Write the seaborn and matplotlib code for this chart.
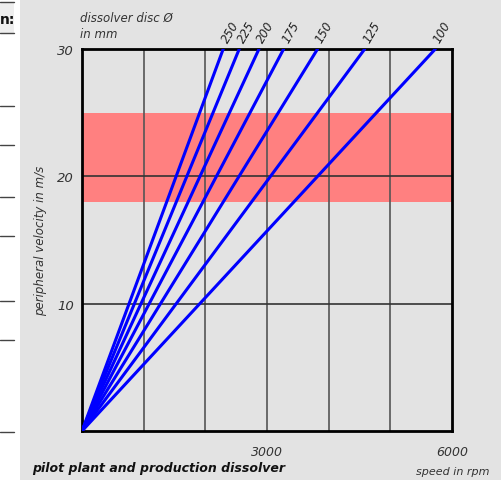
import pandas as pd
import matplotlib.pyplot as plt
import seaborn as sns
from matplotlib.patches import Rectangle
from matplotlib.lines import Line2D

# disc diameters (mm) and the speed (rpm) where each line leaves the chart at 30 m/s
discs = [250, 225, 200, 175, 150, 125, 100]
end_speed = [2290, 2550, 2870, 3270, 3820, 4585, 5730]
end_velocity = [30, 30, 30, 30, 30, 30, 30]

band = (18, 25)
xticks = [1000, 2000, 3000, 4000, 5000, 6000]
xticklabels = ['', '', '3000', '', '', '6000']
yticks = [10, 20, 30]

rows = []
for d, n, v in zip(discs, end_speed, end_velocity):
    rows.append({'disc': d, 'speed': 0, 'v': 0})
    rows.append({'disc': d, 'speed': n, 'v': v})
df = pd.DataFrame(rows)

sns.set_style('white')
plt.rcParams['font.family'] = ['DejaVu Sans']
bg = '#e3e3e3'

fig = plt.figure(figsize=(5.02, 4.81), dpi=100, facecolor=bg)
W, H = 502, 481
ax = fig.add_axes([82 / W, (H - 432) / H, 370 / W, 382 / H])
ax.set_facecolor(bg)

ax.axhspan(band[0], band[1], color='#ff8080', lw=0, zorder=0)
for x in xticks[:-1]:
    ax.axvline(x, color='#555555', lw=1.2, zorder=1)
for y in yticks[:-1]:
    ax.axhline(y, color='#333333', lw=1.2, zorder=1)

sns.lineplot(data=df, x='speed', y='v', units='disc', estimator=None,
             color='blue', lw=2.2, ax=ax, zorder=3, legend=False)

for d, n, v in zip(discs, end_speed, end_velocity):
    ax.annotate(str(d), (n, v), xytext=(5, 3), textcoords='offset points',
                rotation=60, rotation_mode='anchor', ha='left', va='bottom',
                fontsize=8.5, style='italic', color='#222222',
                annotation_clip=False)

ax.set_xlim(0, 6000)
ax.set_ylim(0, 30)
ax.set_xticks(xticks)
ax.set_xticklabels(xticklabels, fontsize=9, style='italic', color='#333333')
ax.set_yticks(yticks)
ax.set_yticklabels([str(t) for t in yticks], fontsize=9.5, style='italic', color='#333333')
ax.tick_params(axis='x', direction='out', length=5, width=1.5, color='black', pad=5)
ax.tick_params(axis='y', direction='out', length=4, width=1.5, color='black', pad=2)
ax.set_xlabel('')
ax.set_ylabel('peripheral velocity in m/s', fontsize=8.5, style='italic',
              color='#333333', labelpad=7)
for s in ax.spines.values():
    s.set_color('black')
    s.set_linewidth(2)

fig.text(80 / W, 1 - 18 / H, 'dissolver disc Ø', fontsize=8.5, style='italic',
         color='#333333', ha='left', va='center')
fig.text(80 / W, 1 - 34 / H, 'in mm', fontsize=8.5, style='italic',
         color='#333333', ha='left', va='center')
fig.text(32 / W, 1 - 469 / H, 'pilot plant and production dissolver', fontsize=9,
         style='italic', weight='bold', color='#111111', ha='left', va='center')
fig.text(490 / W, 1 - 472 / H, 'speed in rpm', fontsize=8, style='italic',
         color='#333333', ha='right', va='center')

# cropped page strip on the left edge
fig.patches.append(Rectangle((0, 0), 20 / W, 1, transform=fig.transFigure,
                             facecolor='white', edgecolor='none'))
fig.patches.append(Rectangle((0, 1 - 34 / H), 14 / W, 31 / H, transform=fig.transFigure,
                             facecolor='#eeeeee', edgecolor='none'))
fig.text(0, 1 - 20 / H, 'n:', fontsize=10, weight='bold', color='#111111',
         ha='left', va='center')
for y in [3, 34, 107, 146, 198, 237, 302, 341, 433]:
    fig.add_artist(Line2D([0, 14 / W], [1 - y / H, 1 - y / H], transform=fig.transFigure,
                          color='#444444', lw=1))

fig.savefig('out.png', dpi=100, facecolor=bg)
